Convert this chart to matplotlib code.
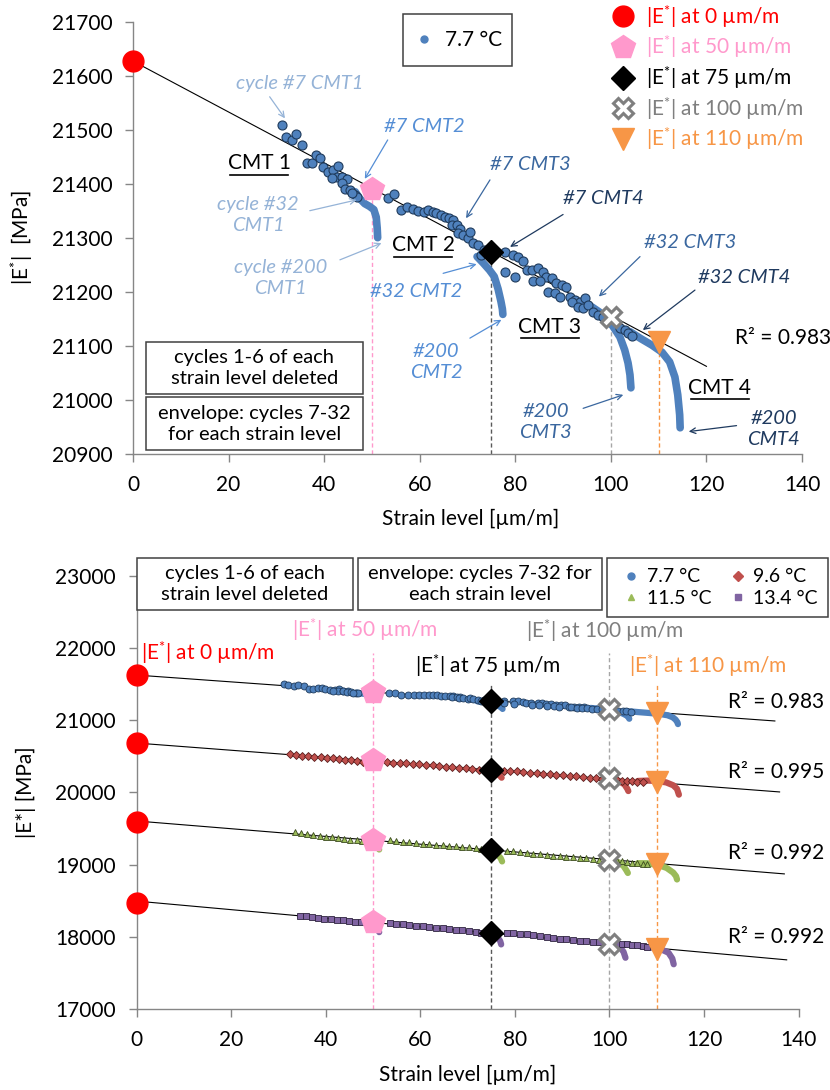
import matplotlib
matplotlib.use('Agg')
import matplotlib.pyplot as plt
from matplotlib.lines import Line2D
from matplotlib.patches import Rectangle
import numpy as np

plt.rcParams['font.family'] = ['Lato', 'DejaVu Sans']
plt.rcParams['mathtext.fontset'] = 'custom'
plt.rcParams['mathtext.rm'] = 'Lato'
plt.rcParams['mathtext.it'] = 'Lato:italic'
plt.rcParams['mathtext.default'] = 'regular'

# ---------------- data ----------------
temps = ['7.7 °C', '9.6 °C', '11.5 °C', '13.4 °C']
key_strain = [0, 50, 75, 100, 110]
key_labels = ['0', '50', '75', '100', '110']

# |E*| at 0/50/75/100/110 um/m
e_key_77 = [21627, 21391, 21274, 21154, 21107]
e_key_96 = [20683, 20445, 20308, 20200, 20150]
e_key_115 = [19590, 19340, 19200, 19065, 19005]
e_key_134 = [18470, 18200, 18050, 17905, 17835]

# linear trendlines (intercept, slope), R2
fit_b = [21627, 20685, 19605, 18495]
fit_m = [-4.71, -4.98, -5.35, -5.92]
fit_end = [135, 136, 137, 137.5]
r2 = ['0.983', '0.995', '0.992', '0.992']

# 7.7 C envelope points (cycles 7-32)
env77_x = [31.1, 32.0, 33.2, 34.2, 35.4, 36.5, 37.4, 38.4, 39.1, 39.8, 40.9, 41.9, 42.9, 42.6,
           41.6, 43.7, 44.7, 43.7, 44.4, 45.4, 46.4, 46.9, 45.8,
           53.4, 54.6, 56.0, 57.3, 58.6, 59.7, 60.8, 61.8, 62.7, 63.5, 64.4, 65.3, 66.2, 67.0,
           66.7, 67.7, 68.4, 68.1, 69.1, 70.1, 70.5, 71.2, 72.2, 72.8, 73.5,
           77.8, 79.6, 80.6, 81.7, 77.8, 79.9, 82.4, 83.4, 84.8, 83.7, 85.8, 86.5, 85.1, 87.6,
           88.6, 89.7, 90.7, 86.9, 88.3, 89.3, 91.4, 92.5, 93.5, 94.6, 91.8, 93.2, 94.2, 95.2,
           96.3, 97.3, 98.4, 101.9, 102.9, 103.6, 104.5]
env77_e = [21509, 21487, 21480, 21492, 21472, 21438, 21438, 21454, 21447, 21431, 21422, 21425, 21433, 21413,
           21410, 21413, 21408, 21401, 21391, 21388, 21379, 21375, 21383,
           21373, 21381, 21351, 21356, 21354, 21350, 21348, 21351, 21348, 21345, 21342, 21339, 21336, 21333,
           21324, 21324, 21317, 21308, 21305, 21299, 21311, 21290, 21287, 21268, 21278,
           21274, 21268, 21265, 21256, 21237, 21228, 21240, 21241, 21243, 21219, 21237, 21228, 21219, 21225,
           21216, 21212, 21209, 21200, 21197, 21191, 21191, 21185, 21181, 21188, 21181, 21172, 21169, 21175,
           21163, 21157, 21154, 21132, 21129, 21123, 21118]

# 7.7 C cycles 32-200 for CMT1..CMT4
tr77_x = [[46.5, 47.5, 48.5, 49.5, 50.4, 50.9, 51.1, 51.2],
          [72.0, 73.3, 74.6, 75.6, 76.4, 77.0, 77.3, 77.4],
          [96.0, 97.5, 99.0, 100.5, 101.9, 102.9, 103.6, 104.0, 104.2],
          [104.0, 106.1, 108.6, 110.7, 112.3, 113.4, 114.0, 114.4, 114.5]]
tr77_e = [[21385, 21372, 21363, 21358, 21352, 21338, 21318, 21300],
          [21265, 21253, 21240, 21228, 21205, 21182, 21168, 21158],
          [21172, 21163, 21152, 21135, 21116, 21092, 21068, 21046, 21022],
          [21126, 21114, 21101, 21088, 21070, 21042, 21009, 20972, 20948]]

env96_x = [32.4, 33.7, 35.0, 36.3, 37.6, 38.9, 40.2, 41.5, 42.8, 44.1, 45.4, 46.7, 47.8,
           52.9, 54.2, 55.6, 57.0, 58.4, 59.8, 61.2, 62.6, 64.0, 65.4, 66.8, 68.2, 69.6, 71.0, 72.4, 73.6,
           77.6, 79.0, 80.4, 81.8, 83.2, 84.6, 86.0, 87.4, 88.8, 90.2, 91.6, 93.0, 94.4, 95.8, 97.2, 98.4,
           101.5, 102.6, 103.7, 104.8, 105.9, 107.0]
env96_e = [20530, 20515, 20508, 20500, 20495, 20488, 20482, 20476, 20468, 20455, 20445, 20430, 20418,
           20420, 20415, 20410, 20404, 20398, 20392, 20384, 20375, 20366, 20358, 20350, 20342, 20334, 20326, 20316, 20308,
           20304, 20298, 20292, 20285, 20276, 20268, 20262, 20255, 20248, 20240, 20232, 20224, 20214, 20205, 20196, 20188,
           20170, 20166, 20162, 20155, 20150, 20146]
tr96_x = [[49.5, 50.5, 51.0],
          [75.0, 76.0, 76.8, 77.2],
          [100.5, 102.0, 103.2, 103.8, 104.0],
          [106.0, 108.0, 110.0, 112.0, 113.5, 114.3, 114.7]]
tr96_e = [[20425, 20405, 20385],
          [20300, 20275, 20235, 20205],
          [20180, 20160, 20110, 20050, 20020],
          [20160, 20165, 20160, 20140, 20100, 20050, 19970]]

env115_x = [33.5, 34.8, 36.1, 37.4, 38.7, 40.0, 41.3, 42.6, 43.9, 45.2, 46.5, 47.6,
            53.6, 54.9, 56.3, 57.7, 59.1, 60.5, 61.9, 63.3, 64.7, 66.1, 67.5, 68.9, 70.3, 71.7, 72.9,
            78.3, 79.7, 81.1, 82.5, 83.9, 85.3, 86.7, 88.1, 89.5, 90.9, 92.3, 93.7, 95.1, 96.5, 97.9,
            101.5, 102.6, 103.7, 104.8, 105.9, 107.0, 108.0]
env115_e = [19459, 19445, 19425, 19405, 19395, 19388, 19378, 19368, 19358, 19348, 19338, 19330,
            19340, 19330, 19318, 19308, 19300, 19292, 19285, 19277, 19270, 19262, 19255, 19248, 19242, 19230, 19218,
            19195, 19185, 19172, 19164, 19152, 19142, 19133, 19126, 19118, 19110, 19102, 19094, 19088, 19080, 19070,
            19050, 19044, 19038, 19030, 19022, 19015, 19010]
tr115_x = [[49.5, 50.5, 51.1, 51.3],
           [75.0, 76.2, 77.0, 77.3],
           [100.5, 102.0, 103.0, 103.6, 103.9],
           [106.0, 108.0, 110.5, 112.1, 113.5, 114.1, 114.3]]
tr115_e = [[19320, 19290, 19245, 19210],
           [19190, 19150, 19090, 19045],
           [19055, 19030, 18980, 18920, 18885],
           [19020, 19020, 18990, 18955, 18890, 18840, 18795]]

env134_x = [34.5, 35.8, 37.1, 38.4, 39.7, 41.0, 42.3, 43.6, 44.9, 46.2, 47.5,
            53.6, 54.9, 56.3, 57.7, 59.1, 60.5, 61.9, 63.3, 64.7, 66.1, 67.5, 68.9, 70.3, 71.7, 72.9,
            78.3, 79.7, 81.1, 82.5, 83.9, 85.3, 86.7, 88.1, 89.5, 90.9, 92.3, 93.7, 95.1, 96.5, 97.9,
            101.5, 102.6, 103.7, 104.8, 105.9, 107.0, 108.0]
env134_e = [18295, 18285, 18268, 18262, 18250, 18245, 18236, 18228, 18220, 18212, 18205,
            18190, 18182, 18174, 18166, 18156, 18146, 18135, 18126, 18118, 18108, 18098, 18088, 18076, 18062, 18052,
            18050, 18048, 18042, 18033, 18022, 18010, 18000, 17985, 17975, 17965, 17955, 17945, 17937, 17930, 17922,
            17905, 17900, 17895, 17888, 17880, 17872, 17866]
tr134_x = [[49.5, 50.5, 51.1, 51.3],
           [75.0, 76.2, 76.9, 77.1],
           [100.5, 102.0, 103.0, 103.4],
           [106.5, 109.0, 111.0, 112.5, 113.3, 113.6]]
tr134_e = [[18200, 18160, 18100, 18065],
           [18050, 18010, 17940, 17895],
           [17900, 17880, 17790, 17710],
           [17870, 17850, 17825, 17780, 17700, 17620]]

# ---------------- style ----------------
c_series = ['#4F81BD', '#C0504D', '#9BBB59', '#8064A2']
c_edge = ['#1F3B5C', '#5A1E1D', '#3B4A1E', '#2F2440']
mk_series = ['o', 'D', '^', 's']
key_col = ['#FF0000', '#FF99CC', '#000000', '#7F7F7F', '#F79646']
vline_col = ['#FF99CC', '#595959', '#A6A6A6', '#F79646']


def key_marker(ax, x, y, i, clip=False):
    kw = dict(linestyle='none', clip_on=clip, zorder=6)
    if i == 0:
        ax.plot(x, y, 'o', ms=15, color=key_col[0], **kw)
    elif i == 1:
        ax.plot(x, y, 'p', ms=18, color=key_col[1], **kw)
    elif i == 2:
        ax.plot(x, y, 'D', ms=12, color=key_col[2], **kw)
    elif i == 3:
        ax.plot(x, y, 'X', ms=14, mfc='white', mec=key_col[3], mew=2.2, **kw)
    else:
        ax.plot(x, y, 'v', ms=16, color=key_col[4], **kw)


def key_handle(i):
    if i == 0:
        return Line2D([], [], marker='o', ls='none', ms=15, color=key_col[0])
    if i == 1:
        return Line2D([], [], marker='p', ls='none', ms=18, color=key_col[1])
    if i == 2:
        return Line2D([], [], marker='D', ls='none', ms=12, color=key_col[2])
    if i == 3:
        return Line2D([], [], marker='X', ls='none', ms=14, mfc='white', mec=key_col[3], mew=2.2)
    return Line2D([], [], marker='v', ls='none', ms=16, color=key_col[4])


def style_axes(ax):
    for s in ['top', 'right']:
        ax.spines[s].set_visible(False)
    for s in ['left', 'bottom']:
        ax.spines[s].set_color('#868686')
        ax.spines[s].set_linewidth(1.0)
    ax.tick_params(direction='out', length=6, width=1, color='#868686', labelsize=15, pad=9)
    ax.set_xlim(0, 140)
    ax.set_xticks(np.arange(0, 141, 20))


W, H = 830, 1090
fig = plt.figure(figsize=(8.3, 10.9), dpi=100)


def fx(px):
    return px / W


def fy(py):
    return 1 - py / H


def box(x0, y0, x1, y1, text, fs=14.5):
    fig.patches.append(Rectangle((fx(x0), fy(y1)), fx(x1) - fx(x0), fy(y0) - fy(y1),
                                 transform=fig.transFigure, fc='white', ec='#404040', lw=1.1, zorder=10))
    fig.text(fx((x0 + x1) / 2), fy((y0 + y1) / 2), text, ha='center', va='center',
             fontsize=fs, linespacing=1.3, zorder=11)


estar = r'|E$^{*}$|'

# ================= top panel =================
ax1 = fig.add_axes([fx(133), fy(453.7), fx(802) - fx(133), fy(21.7) - fy(453.7)])
style_axes(ax1)
ax1.set_ylim(20900, 21700)
ax1.set_yticks(np.arange(20900, 21701, 100))

ax1.plot([0, 120], [fit_b[0], fit_b[0] + fit_m[0] * 120], color='black', lw=0.8, zorder=2)
for k in range(1, 5):
    ax1.plot([key_strain[k], key_strain[k]], [20900, e_key_77[k]], ls=(0, (3, 2)),
             color=vline_col[k - 1], lw=1.0, zorder=1)
for tx, te in zip(tr77_x, tr77_e):
    ax1.plot(tx, te, '-', color=c_series[0], lw=5.5, solid_capstyle='round',
             solid_joinstyle='round', zorder=3)
ax1.plot(env77_x, env77_e, 'o', ms=6.5, mfc=c_series[0], mec=c_edge[0], mew=0.8, zorder=4)
for k in range(5):
    key_marker(ax1, key_strain[k], e_key_77[k], k)

ax1.set_xlabel('Strain level [µm/m]', fontsize=15)
ax1.set_ylabel(estar + '  [MPa]', fontsize=15)
ax1.xaxis.set_label_coords(0.504, -0.127)
ax1.yaxis.set_label_coords(-0.146, 0.5)

c1, c2, c3, c4 = '#95B3D7', '#558ED5', '#3A679F', '#1F3A5F'
notes = [
    ('cycle #7 CMT1', 34.9, 21585, (28.6, 21561), (31.8, 21521), c1),
    ('#7 CMT2', 60.9, 21505, (53.3, 21481), (48.5, 21409), c2),
    ('cycle #32\nCMT1', 26.2, 21342, (37.0, 21350), (46.8, 21370), c1),
    ('cycle #200\nCMT1', 30.8, 21225, (43.3, 21259), (52.0, 21290), c1),
    ('#32 CMT2', 59.3, 21200, (64.9, 21234), (71.9, 21251), c2),
    ('#200\nCMT2', 63.4, 21070, (70.5, 21114), (77.1, 21148), c2),
    ('#7 CMT3', 83.1, 21436, (74.7, 21407), (69.7, 21336), c3),
    ('#7 CMT4', 98.4, 21372, (90.0, 21343), (78.9, 21283), c4),
    ('#32 CMT3', 116.5, 21291, (106.1, 21265), (97.5, 21191), c3),
    ('#32 CMT4', 127.8, 21226, (117.6, 21203), (106.7, 21129), c4),
    ('#200\nCMT3', 86.3, 20958, (94.2, 20984), (102.6, 21009), c3),
    ('#200\nCMT4', 134.1, 20946, (126.3, 20952), (116.3, 20941), c4),
]
for txt, tx, ty, tail, head, col in notes:
    ax1.text(tx, ty, txt, color=col, fontsize=14.5, style='italic', ha='center', va='center',
             linespacing=1.3, zorder=7, clip_on=False)
    ax1.annotate('', xy=head, xytext=tail,
                 arrowprops=dict(arrowstyle='->', color=col, lw=0.9, shrinkA=0, shrinkB=0),
                 zorder=7, annotation_clip=False)

for txt, tx, ty in [('CMT 1', 26.4, 21438), ('CMT 2', 60.7, 21286),
                    ('CMT 3', 87.2, 21135), ('CMT 4', 122.8, 21022)]:
    ax1.text(tx, ty, txt, fontsize=15, ha='center', va='center', zorder=7)
    ax1.plot([tx - 6.1, tx + 6.1], [ty - 21, ty - 21], color='black', lw=1.2, zorder=7,
             clip_on=False)

ax1.text(136.0, 21114, 'R² = ' + r2[0], fontsize=15, ha='center', va='center', clip_on=False)

box(145.7, 341.7, 363, 394.3, 'cycles 1-6 of each\nstrain level deleted')
box(145.7, 397.3, 363, 450, 'envelope: cycles 7-32\nfor each strain level')

# legend "7.7 °C"
fig.patches.append(Rectangle((fx(403), fy(66)), fx(512) - fx(403), fy(14) - fy(66),
                             transform=fig.transFigure, fc='white', ec='#404040', lw=1.1, zorder=10))
lg = fig.legend([Line2D([], [], marker='o', ls='none', ms=5, color=c_series[0])], [temps[0]],
                loc='center', bbox_to_anchor=(fx(457.5), fy(40)), frameon=False, fontsize=15,
                handlelength=1.0, handletextpad=0.5)
lg.set_zorder(11)

# key legend
lg2 = fig.legend([key_handle(k) for k in range(5)],
                 [estar + ' at ' + key_labels[k] + ' µm/m' for k in range(5)],
                 loc='upper left', bbox_to_anchor=(fx(590), fy(-16)), frameon=False, fontsize=15,
                 labelcolor=key_col, handlelength=1.4, handletextpad=0.4, labelspacing=0.18)
lg2.set_zorder(11)

# ================= bottom panel =================
ax2 = fig.add_axes([fx(136.7), fy(1009), fx(798.5) - fx(136.7), fy(576) - fy(1009)])
style_axes(ax2)
ax2.set_ylim(17000, 23000)
ax2.set_yticks(np.arange(17000, 23001, 1000))

vtop = [21933, 21518, 21933, 21518]
for k in range(1, 5):
    ax2.plot([key_strain[k], key_strain[k]], [17000, vtop[k - 1]], ls=(0, (3, 2)),
             color=vline_col[k - 1], lw=1.0, zorder=1)

env_x = [env77_x, env96_x, env115_x, env134_x]
env_e = [env77_e, env96_e, env115_e, env134_e]
tr_x = [tr77_x, tr96_x, tr115_x, tr134_x]
tr_e = [tr77_e, tr96_e, tr115_e, tr134_e]
e_keys = [e_key_77, e_key_96, e_key_115, e_key_134]
r2_y = [21255, 20290, 19159, 18004]
ms_env = [5, 4.5, 5, 4.5]

for i in range(4):
    ax2.plot([0, fit_end[i]], [fit_b[i], fit_b[i] + fit_m[i] * fit_end[i]], color='black',
             lw=0.8, zorder=2)
    for tx, te in zip(tr_x[i], tr_e[i]):
        ax2.plot(tx, te, '-', color=c_series[i], lw=4.5, solid_capstyle='round',
                 solid_joinstyle='round', zorder=3)
    ax2.plot(env_x[i], env_e[i], mk_series[i], ms=ms_env[i], mfc=c_series[i], mec=c_edge[i],
             mew=0.6, zorder=4)
    for k in range(5):
        key_marker(ax2, key_strain[k], e_keys[i][k], k)
    ax2.text(135.2, r2_y[i], 'R² = ' + r2[i], fontsize=15, ha='center', va='center',
             clip_on=False)

lab_pos = [(0.9, 21938, 'left'), (48.3, 22252, 'center'), (74.3, 21754, 'center'),
           (99.0, 22242, 'center'), (120.9, 21754, 'center')]
for k in range(5):
    x, y, ha = lab_pos[k]
    ax2.text(x, y, estar + ' at ' + key_labels[k] + ' µm/m', color=key_col[k], fontsize=15,
             ha=ha, va='center', zorder=7)

ax2.set_xlabel('Strain level [µm/m]', fontsize=15)
ax2.set_ylabel('|E*| [MPa]', fontsize=15)
ax2.xaxis.set_label_coords(0.5, -0.13)
ax2.yaxis.set_label_coords(-0.152, 0.5)

box(137.3, 558.3, 352.7, 610, 'cycles 1-6 of each\nstrain level deleted')
box(357.7, 558.3, 602.3, 610, 'envelope: cycles 7-32 for\neach strain level')

fig.patches.append(Rectangle((fx(607.3), fy(617)), fx(828.3) - fx(607.3), fy(558.3) - fy(617),
                             transform=fig.transFigure, fc='white', ec='#404040', lw=1.1, zorder=10))
order = [0, 2, 1, 3]
hs = [Line2D([], [], marker=mk_series[i], ls='none', ms=5, color=c_series[i]) for i in order]
lg3 = fig.legend(hs, [temps[i] for i in order], ncol=2, loc='center',
                 bbox_to_anchor=(fx(720), fy(587.5)), frameon=False, fontsize=14,
                 handlelength=0.9, handletextpad=0.35, columnspacing=0.9, labelspacing=0.22)
lg3.set_zorder(11)

fig.savefig('out.png', dpi=100)
